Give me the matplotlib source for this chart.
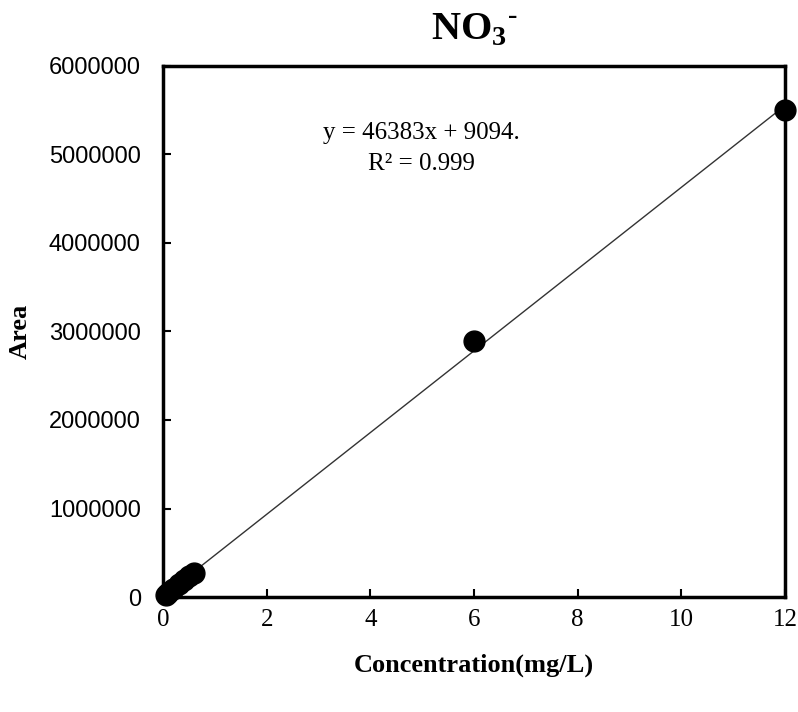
import numpy as np
import matplotlib
matplotlib.use("Agg")
import matplotlib.pyplot as plt

plt.rcParams["mathtext.fontset"] = "custom"
plt.rcParams["mathtext.rm"] = "Liberation Serif:bold"
plt.rcParams["mathtext.bf"] = "Liberation Serif:bold"

# Data
conc = [0.05, 0.1, 0.2, 0.3, 0.4, 0.5, 0.6, 6.0, 12.0]
area = [20000, 50000, 95000, 145000, 190000, 235000, 275000, 2890000, 5500000]
x_ticks = [0, 2, 4, 6, 8, 10, 12]
y_ticks = [0, 1000000, 2000000, 3000000, 4000000, 5000000, 6000000]
title = "NO$_{\\mathbf{3}}$$^{\\mathbf{\u2010}}$"
x_label = "Concentration(mg/L)"
y_label = "Area"
eq_text = "y = 46383x + 9094.\nR\u00b2 = 0.999"

fig = plt.figure(figsize=(7.98, 7.12), dpi=100)
ax = fig.add_axes([163/798, 1-597/712, (785-163)/798, (597-66)/712])

# fit line
coef = np.polyfit(conc, area, 1)
xl = np.array([min(conc), max(conc)])
ax.plot(xl, np.polyval(coef, xl), color="#333333", lw=1.0, zorder=2)
ax.plot(conc, area, "o", color="black", ms=15, zorder=3, clip_on=False)

ax.set_xlim(0, 12)
ax.set_ylim(0, 6000000)
ax.set_xticks(x_ticks)
ax.set_yticks(y_ticks)
ax.set_xticklabels([str(v) for v in x_ticks], fontfamily="Liberation Serif", fontsize=18)
ax.set_yticklabels([str(v) for v in y_ticks], fontfamily="Liberation Sans", fontsize=17)
ax.tick_params(axis="x", direction="in", length=6, width=1.5, pad=9)
ax.tick_params(axis="y", direction="in", length=6, width=1.5, pad=16)
for s in ax.spines.values():
    s.set_linewidth(2.5)

ax.set_xlabel(x_label, fontfamily="Liberation Serif", fontweight="bold", fontsize=19, labelpad=16)
ax.set_ylabel(y_label, fontfamily="Liberation Serif", fontweight="bold", fontsize=19)
ax.yaxis.set_label_coords((32 - 163) / 622, 0.5)
fig.text(0.5 * (163 + 785) / 798, 1 - 30/712, title, ha="center", va="center",
         fontfamily="Liberation Serif", fontweight="bold", fontsize=29)
ax.text(0.416, 0.845, eq_text, transform=ax.transAxes, ha="center", va="center",
        fontfamily="Liberation Serif", fontsize=18, linespacing=1.5)

fig.savefig("out.png", dpi=100)
